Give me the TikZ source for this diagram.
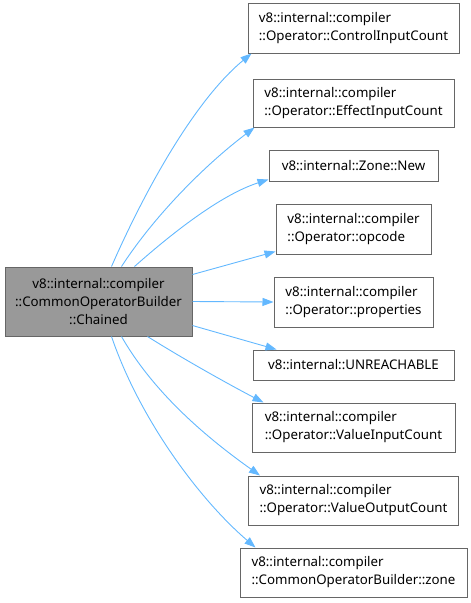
\documentclass[tikz,border=0pt]{standalone}
\usepackage{fontspec}
\setmainfont{Noto Sans}
\usetikzlibrary{arrows.meta}
\definecolor{edgeblue}{HTML}{63B8FF}
\definecolor{boxgray}{HTML}{666666}
\definecolor{mainfill}{HTML}{999999}
\tikzset{
  box/.style={draw=boxgray, fill=white, line width=1pt, inner sep=0pt, align=left,
    font=\fontsize{13.3}{18}\selectfont},
  mainbox/.style={box, fill=mainfill, align=center},
  link/.style={draw=edgeblue, line width=0.9pt, -{Triangle[length=11pt,width=8pt]}}
}
\begin{document}
\begin{tikzpicture}[x=1pt,y=-1pt]
\useasboundingbox (0,0) rectangle (471,603);
\node[mainbox, minimum width=187pt, minimum height=69pt] (main) at (98.5,301.5)
  {v8::internal::compiler\\::CommonOperatorBuilder\\::Chained};
\node[box, minimum width=211pt, minimum height=50pt] (t1) at (353.5,28)
  {v8::internal::compiler\\::Operator::ControlInputCount};
\node[box, minimum width=201pt, minimum height=48pt] (t2) at (353.5,103)
  {v8::internal::compiler\\::Operator::EffectInputCount};
\node[box, minimum width=169pt, minimum height=31pt] (t3) at (353.5,165.5)
  {v8::internal::Zone::New};
\node[box, minimum width=155pt, minimum height=50pt] (t4) at (353.5,229)
  {v8::internal::compiler\\::Operator::opcode};
\node[box, minimum width=159pt, minimum height=50pt] (t5) at (353.5,302)
  {v8::internal::compiler\\::Operator::properties};
\node[box, minimum width=201pt, minimum height=30pt] (t6) at (353.5,365)
  {v8::internal::UNREACHABLE};
\node[box, minimum width=203pt, minimum height=49pt] (t7) at (353.5,427.5)
  {v8::internal::compiler\\::Operator::ValueInputCount};
\node[box, minimum width=210pt, minimum height=49pt] (t8) at (353.5,500.5)
  {v8::internal::compiler\\::Operator::ValueOutputCount};
\node[box, minimum width=227pt, minimum height=49pt] (t9) at (353.5,572.5)
  {v8::internal::compiler\\::CommonOperatorBuilder::zone};

\draw[link] ([xshift=107pt]main.north west) .. controls (145,190) and (195,100) .. ([xshift=4pt]t1.south west);
\draw[link] ([xshift=117pt]main.north west) .. controls (155,215) and (205,165) .. ([xshift=2pt]t2.south west);
\draw[link] ([xshift=130pt]main.north west) .. controls (170,235) and (220,195) .. ([yshift=2pt]t3.south west);
\draw[link] ([yshift=27pt]main.east) -- ([yshift=3pt]t4.south west);
\draw[link] (main.east) -- (t5.west);
\draw[link] ([yshift=-24pt]main.east) -- ([xshift=24pt]t6.north west);
\draw[link] ([xshift=143pt]main.south west) .. controls (185,360) and (230,385) .. ([xshift=12pt]t7.north west);
\draw[link] ([xshift=117pt]main.south west) .. controls (155,395) and (210,440) .. ([xshift=12pt]t8.north west);
\draw[link] ([xshift=107pt]main.south west) .. controls (140,420) and (200,500) .. ([xshift=16pt]t9.north west);
\end{tikzpicture}
\end{document}
